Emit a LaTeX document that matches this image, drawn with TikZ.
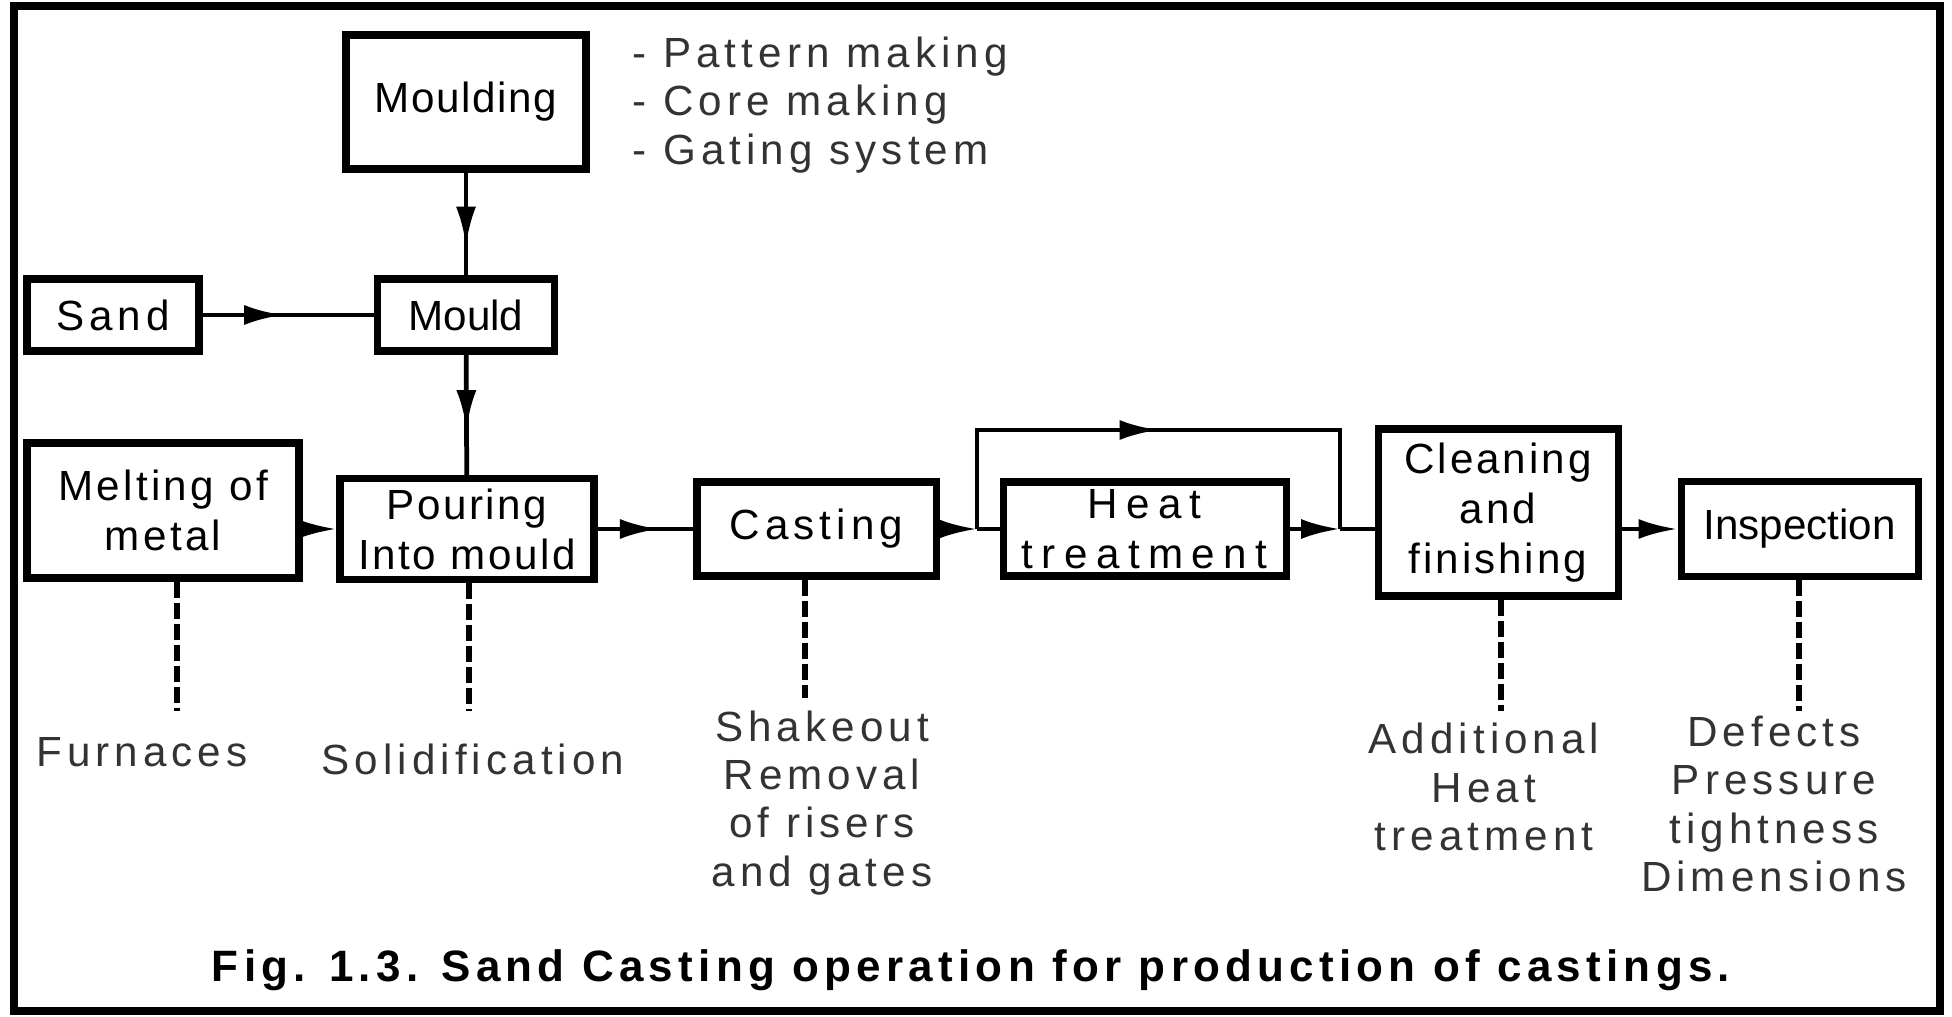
\documentclass[tikz,border=0pt]{standalone}
\usepackage{fontspec}
\setmainfont{Liberation Sans}
\newfontfamily\spacedfont[LetterSpace=12]{Liberation Sans}
\usetikzlibrary{arrows.meta,decorations.markings}

\newcommand{\boxfont}{\fontsize{12}{14.2}\selectfont}
\newcommand{\notefont}{\spacedfont\fontsize{12}{13.7}\selectfont}
\newcommand{\ls}[1]{\addfontfeature{LetterSpace=#1}}

\tikzset{
  box/.style={draw, line width=2pt, inner sep=0pt, align=center, font=\boxfont},
  note/.style={align=center, text=black!80, font=\notefont},
  flow/.style={line width=1.35pt},
  pfeil/.style={line width=1.35pt, -{Latex[length=3.9mm,width=2mm]}},
  midpfeil/.style={line width=1.35pt, postaction={decorate},
    decoration={markings, mark=at position #1 with {\arrow{Latex[length=3.9mm,width=2mm]}}}},
  strich/.style={line width=1.6pt, dash pattern=on 1.6mm off 0.5mm},
}

\begin{document}
\begin{tikzpicture}[x=1cm, y=1cm]
  \useasboundingbox (0,0) rectangle (19.52,10.16);
  % Rahmen
  \draw[line width=2.2pt] (0.14,0.05) rectangle (19.40,10.10);

  % Kaesten
  \node[box, minimum width=2.40cm, minimum height=1.34cm, font=\boxfont\ls{4}] (moulding) at (4.66,9.14) {Moulding};
  \node[box, minimum width=1.72cm, minimum height=0.72cm, font=\notefont] (sand) at (1.13,7.01) {Sand};
  \node[box, minimum width=1.77cm, minimum height=0.72cm] (mould) at (4.66,7.01) {Mould};
  \node[box, minimum width=2.72cm, minimum height=1.35cm, font=\boxfont\ls{8}] (melt) at (1.63,5.055) {Melting of\\metal};
  \node[box, minimum width=2.54cm, minimum height=1.01cm, font=\boxfont\ls{6}] (pour) at (4.67,4.87) {Pouring\\Into mould};
  \node[box, minimum width=2.39cm, minimum height=0.94cm, font=\notefont] (cast) at (8.165,4.87) {Casting};
  \node[box, minimum width=2.83cm, minimum height=0.94cm, font=\boxfont\ls{20}] (heat) at (11.445,4.87) {Heat\\treatment};
  \node[box, minimum width=2.40cm, minimum height=1.67cm, font=\boxfont\ls{7}] (clean) at (14.98,5.035) {Cleaning\\and\\finishing};
  \node[box, minimum width=2.37cm, minimum height=0.95cm] (insp) at (17.995,4.87) {Inspection};

  % Teilschritte Formherstellung
  \node[note, align=left, anchor=west] (steps) at (6.20,9.11) {- Pattern making\\- Core making\\- Gating system};

  % Pfeile
  \draw[midpfeil=0.71] (moulding) -- (mould);
  \draw[midpfeil=0.47] (sand) -- (mould);
  \draw[midpfeil=0.62] (mould) -- (pour);
  \draw[pfeil] (melt.east |- pour.west) -- (pour.west);
  \draw[midpfeil=0.64] (pour) -- (cast);

  % Umgehung der Waermebehandlung
  \coordinate (jl) at (9.77,4.87);
  \coordinate (jr) at (13.40,4.87);
  \coordinate (tl) at (9.77,5.86);
  \coordinate (tr) at (13.40,5.86);
  \draw[pfeil] (cast) -- (jl);
  \draw[flow] (jl) -- (heat);
  \draw[midpfeil=0.5] (jl) -- (tl) -- (tr) -- (jr);
  \draw[pfeil] (heat) -- (jr);
  \draw[flow] (jr) -- (clean.west |- jr);
  \draw[pfeil] (clean.east |- insp.west) -- (insp.west);

  % gestrichelte Zuordnungen
  \coordinate (furnEnd) at (1.77,3.05);
  \coordinate (solEnd) at (4.69,3.05);
  \coordinate (shakeEnd) at (8.05,3.18);
  \coordinate (addEnd) at (15.01,3.05);
  \coordinate (defEnd) at (17.99,3.05);
  \foreach \b/\e in {melt/furnEnd, pour/solEnd, cast/shakeEnd, clean/addEnd, insp/defEnd}
    \draw[strich] (\b.south -| \e) -- (\e);

  % Erlaeuterungen
  \node[note] (furnaces) at (1.42,2.64) {Furnaces};
  \node[note] (solidification) at (4.73,2.57) {Solidification};
  \node[note] (shakeout) at (8.22,2.13) {Shakeout\\Removal\\of risers\\and gates};
  \node[note] (additional) at (14.84,2.29) {Additional\\Heat\\treatment};
  \node[note] (defects) at (17.74,2.12) {Defects\\Pressure\\tightness\\Dimensions};

  % Bildunterschrift
  \node[font=\spacedfont\fontsize{12.5}{15}\selectfont\bfseries] (caption) at (9.71,0.46)
    {Fig. 1.3. Sand Casting operation for production of castings.};
\end{tikzpicture}
\end{document}
